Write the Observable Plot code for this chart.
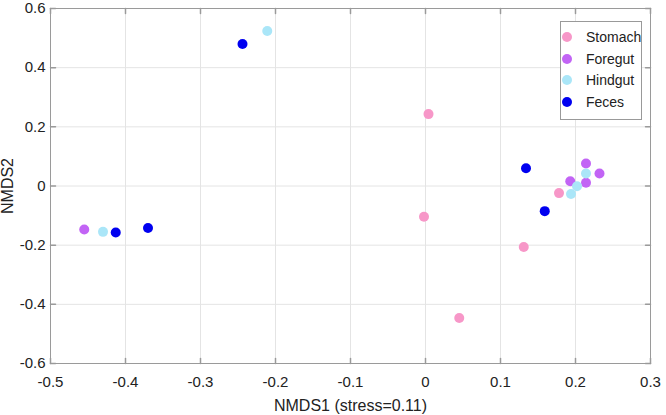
<!DOCTYPE html>
<html>
<head>
<meta charset="utf-8">
<script src="https://cdn.jsdelivr.net/npm/d3@7"></script>
<script src="https://cdn.jsdelivr.net/npm/@observablehq/plot@0.6"></script>
<style>
  body { margin: 0; background: #fff; }
  #wrap { position: relative; width: 666px; height: 415px; font-family: "Liberation Sans", Arial, sans-serif; }
  #legend { position: absolute; left: 560px; top: 21px; width: 82px; height: 99px; border: 1px solid #999; background: #fff; box-sizing: border-box; }
  .item { position: absolute; left: 0; height: 20px; display: flex; align-items: center; font-size: 14px; color: #222; white-space: nowrap; }
  .sw { width: 10px; height: 10px; border-radius: 50%; margin-left: 1px; margin-right: 14px; }
</style>
</head>
<body>
<div id="wrap"><div id="legend"></div></div>
<script>
// ---- data ----
const groups = ["Stomach", "Foregut", "Hindgut", "Feces"];
const colors = ["#f797c8", "#c264f5", "#aae6f8", "#0000f0"];

const stomachX = [0.004, -0.002, 0.045, 0.131, 0.178];
const stomachY = [0.243, -0.104, -0.446, -0.206, -0.024];
const foregutX = [-0.455, 0.193, 0.214, 0.214, 0.232];
const foregutY = [-0.147, 0.016, 0.076, 0.011, 0.042];
const hindgutX = [-0.430, -0.211, 0.194, 0.202, 0.214];
const hindgutY = [-0.155, 0.524, -0.027, -0.001, 0.042];
const fecesX = [-0.413, -0.370, -0.244, 0.134, 0.159];
const fecesY = [-0.157, -0.142, 0.480, 0.060, -0.085];

const xTicks = [-0.5, -0.4, -0.3, -0.2, -0.1, 0, 0.1, 0.2, 0.3];
const xTickLabels = ["-0.5", "-0.4", "-0.3", "-0.2", "-0.1", "0", "0.1", "0.2", "0.3"];
const yTicks = [-0.6, -0.4, -0.2, 0, 0.2, 0.4, 0.6];
const yTickLabels = ["-0.6", "-0.4", "-0.2", "0", "0.2", "0.4", "0.6"];
const xLabel = "NMDS1 (stress=0.11)";
const yLabel = "NMDS2";

// ---- build table ----
const seriesX = [stomachX, foregutX, hindgutX, fecesX];
const seriesY = [stomachY, foregutY, hindgutY, fecesY];
const points = [];
groups.forEach((g, gi) => {
  seriesX[gi].forEach((x, i) => points.push({ group: g, x, y: seriesY[gi][i] }));
});

const xMin = xTicks[0], xMax = xTicks[xTicks.length - 1];
const yMin = yTicks[0], yMax = yTicks[yTicks.length - 1];
const xFmt = (d) => xTickLabels[xTicks.findIndex((t) => Math.abs(t - d) < 1e-9)] ?? "";
const yFmt = (d) => yTickLabels[yTicks.findIndex((t) => Math.abs(t - d) < 1e-9)] ?? "";
const axisColor = "#9a9a9a";
const tickLen = 5;
const lineShape = { draw(context, l) { context.moveTo(0, 0); context.lineTo(0, -l); } };

const chart = Plot.plot({
  width: 666,
  height: 415,
  marginLeft: 50,
  marginRight: 16,
  marginTop: 8,
  marginBottom: 52,
  style: { fontFamily: "Liberation Sans, Arial, sans-serif", fontSize: "15px", color: "#222", background: "#fff" },
  x: { domain: [xMin, xMax] },
  y: { domain: [yMin, yMax] },
  color: { domain: groups, range: colors },
  marks: [
    Plot.gridX(xTicks, { stroke: "#e4e4e4", strokeOpacity: 1 }),
    Plot.gridY(yTicks, { stroke: "#e4e4e4", strokeOpacity: 1 }),
    Plot.frame({ stroke: axisColor }),
    // inward ticks on all four sides
    Plot.vector(xTicks, { x: (d) => d, y: () => yMin, length: tickLen, rotate: 0, anchor: "start", shape: lineShape, stroke: axisColor }),
    Plot.vector(xTicks, { x: (d) => d, y: () => yMax, length: tickLen, rotate: 180, anchor: "start", shape: lineShape, stroke: axisColor }),
    Plot.vector(yTicks, { y: (d) => d, x: () => xMin, length: tickLen, rotate: 90, anchor: "start", shape: lineShape, stroke: axisColor }),
    Plot.vector(yTicks, { y: (d) => d, x: () => xMax, length: tickLen, rotate: -90, anchor: "start", shape: lineShape, stroke: axisColor }),
    Plot.axisX(xTicks, {
      tickSize: 0, tickPadding: 13, tickFormat: xFmt, fontSize: 15,
      label: xLabel, labelAnchor: "center", labelOffset: 47, labelArrow: "none"
    }),
    Plot.axisY(yTicks, {
      tickSize: 0, tickPadding: 5, tickFormat: yFmt, fontSize: 15,
      label: yLabel, labelAnchor: "center", labelOffset: 49, labelArrow: "none"
    }),
    Plot.dot(points, { x: "x", y: "y", fill: "group", r: 5 })
  ]
});
chart.querySelectorAll("[aria-label='x-axis label'] text, [aria-label='y-axis label'] text").forEach((t) => t.setAttribute("font-size", "16"));
document.getElementById("wrap").prepend(chart);

// ---- legend ----
const legend = document.getElementById("legend");
groups.forEach((g, i) => {
  const item = document.createElement("div");
  item.className = "item";
  item.style.top = (5 + 21.5 * i) + "px";
  const sw = document.createElement("span");
  sw.className = "sw";
  sw.style.background = colors[i];
  const t = document.createElement("span");
  t.textContent = g;
  item.append(sw, t);
  legend.append(item);
});
</script>
</body>
</html>
